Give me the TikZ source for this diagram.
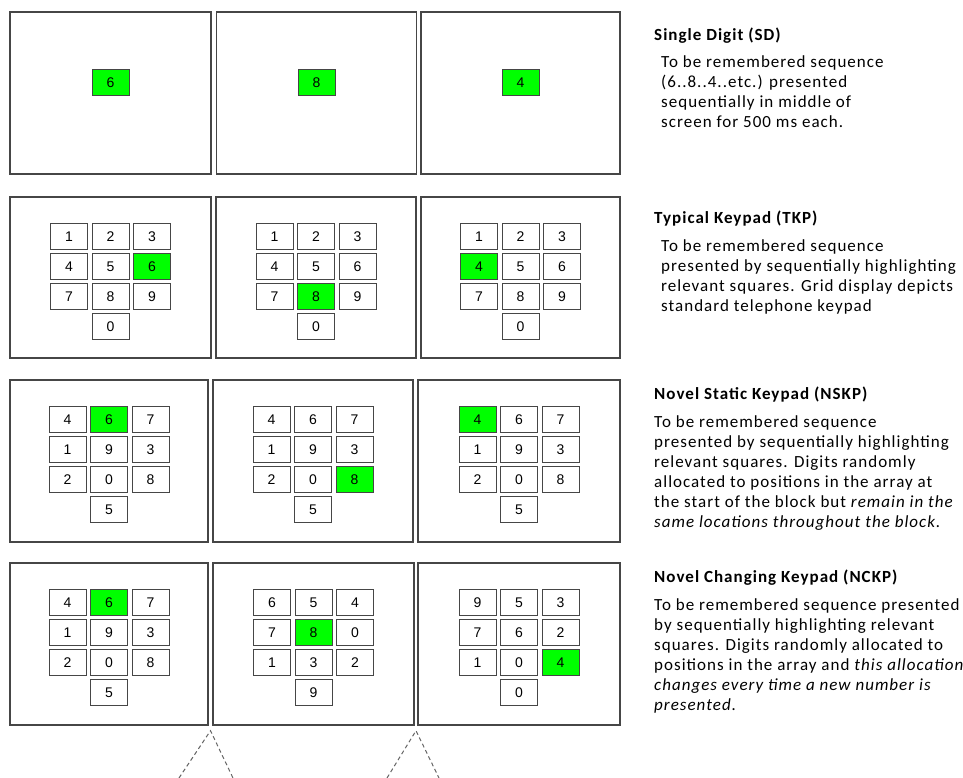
\documentclass[tikz,border=0pt]{standalone}
\usepackage{fontspec}
\setmainfont{Carlito}[LetterSpace=6]
\newfontfamily\keyfont{Liberation Sans}
\usetikzlibrary{calc}
\definecolor{keygreen}{RGB}{0,255,0}
\definecolor{framegray}{RGB}{70,70,70}
\tikzset{%
  panel/.style={draw=framegray,line width=1.4pt,inner sep=0pt},
  key/.style={draw=framegray,line width=0.9pt,minimum width=37pt,minimum height=26pt,inner sep=0pt,
    font=\keyfont\fontsize{14}{14}\selectfont},
  keyon/.style={key,fill=keygreen},
  title/.style={anchor=north west,inner sep=0pt,font=\bfseries\fontsize{17}{20}\selectfont},
  desc/.style={anchor=north west,align=left,inner sep=0pt,font=\fontsize{17}{20}\selectfont},
  guide/.style={draw=black!60,line width=1pt,dash pattern=on 4pt off 3pt}%
}
% keypad: #1 screen, #2 digits (3x3 then bottom), #3 highlighted digit
\newcommand{\keypad}[3]{%
  \foreach \d [count=\i from 0] in {#2} {
    \ifnum\i<9
      \pgfmathtruncatemacro{\kc}{mod(\i,3)-1}
      \pgfmathtruncatemacro{\kr}{int(\i/3)}
    \else
      \def\kc{0}\def\kr{3}
    \fi
    \ifnum\d=#3 \tikzset{keynow/.style={keyon}}\else\tikzset{keynow/.style={key}}\fi
    \node[keynow] (#1-\i) at ($(#1.north)+(\kc*41.5,40+\kr*30)$) {\d};
  }%
}

\begin{document}
\begin{tikzpicture}[x=1pt,y=-1pt]
\useasboundingbox (0,0) rectangle (963,778);

% Screens
\foreach \n/\cx/\cy/\w/\h in {
    11/110.5/93/201/162, 12/316.5/93/200/162, 13/520.5/93/199/162,
    21/110.5/277.5/201/161, 22/316/277.5/200/161, 23/520.5/277.5/199/161,
    31/109/461/198/162, 32/313/461/200/162, 33/519/461/202/162,
    41/109/644/198/162, 42/313.5/644/201/162, 43/519/644/202/162}
  \node[panel,minimum width=\w pt,minimum height=\h pt] (p\n) at (\cx,\cy) {};

% Single digit
\node[keyon] (sd1) at ($(p11.north)+(0,71)$) {6};
\node[keyon] (sd2) at ($(p12.north)+(0,71)$) {8};
\node[keyon] (sd3) at ($(p13.north)+(0,71)$) {4};

% Keypads
\keypad{p21}{1,2,3,4,5,6,7,8,9,0}{6}
\keypad{p22}{1,2,3,4,5,6,7,8,9,0}{8}
\keypad{p23}{1,2,3,4,5,6,7,8,9,0}{4}
\keypad{p31}{4,6,7,1,9,3,2,0,8,5}{6}
\keypad{p32}{4,6,7,1,9,3,2,0,8,5}{8}
\keypad{p33}{4,6,7,1,9,3,2,0,8,5}{4}
\keypad{p41}{4,6,7,1,9,3,2,0,8,5}{6}
\keypad{p42}{6,5,4,7,8,0,1,3,2,9}{8}
\keypad{p43}{9,5,3,7,6,2,1,0,4,0}{4}

% Zoom guides
\coordinate (g1) at ($(p41.south east)!0.5!(p42.south west)+(0,5)$);
\coordinate (g1l) at (179,778);
\coordinate (g1r) at (233,778);
\coordinate (g2) at ($(p42.south east)!0.5!(p43.south west)+(0,5)$);
\coordinate (g2l) at (387,778);
\coordinate (g2r) at (439,778);
\draw[guide] (g1l) -- (g1) -- (g1r);
\draw[guide] (g2l) -- (g2) -- (g2r);

% Descriptions
\node[title] (sd-t) at (654,28) {Single Digit (SD)};
\node[desc] (sd-d) at (661,55) {To be remembered sequence\\
(6..8..4..etc.) presented\\
sequentially in middle of\\
screen for 500 ms each.};

\node[title] (tkp-t) at (654,211) {Typical Keypad (TKP)};
\node[desc] (tkp-d) at (661,239) {To be remembered sequence\\
presented by sequentially highlighting\\
relevant squares. Grid display depicts\\
standard telephone keypad};

\node[title] (nskp-t) at (654,387) {Novel Static Keypad (NSKP)};
\node[desc] (nskp-d) at (654,415) {To be remembered sequence\\
presented by sequentially highlighting\\
relevant squares. Digits randomly\\
allocated to positions in the array at\\
the start of the block but \textit{remain in the}\\
\textit{same locations throughout the block.}};

\node[title] (nckp-t) at (654,570) {Novel Changing Keypad (NCKP)};
\node[desc] (nckp-d) at (654,598) {To be remembered sequence presented\\
by sequentially highlighting relevant\\
squares. Digits randomly allocated to\\
positions in the array and \textit{this allocation}\\
\textit{changes every time a new number is}\\
\textit{presented.}};

\end{tikzpicture}
\end{document}
